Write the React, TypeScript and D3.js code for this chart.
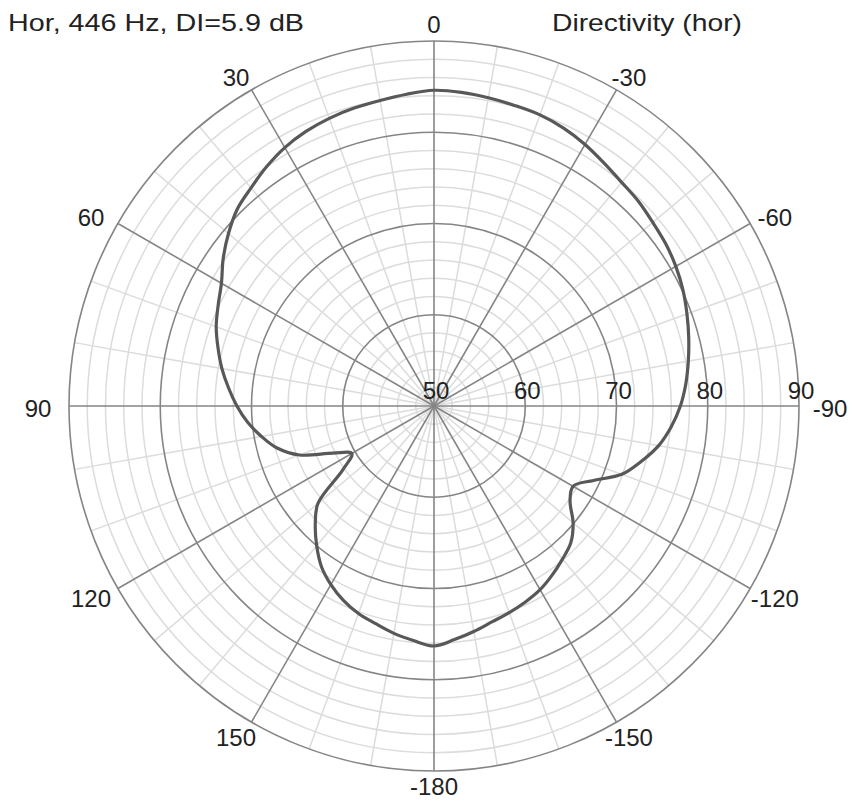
import React from 'react';
import * as d3 from 'd3';

// angle in degrees, 0 = front (top), positive to the left
const angles = [
  -180, -175, -170, -165, -160, -155, -150, -145, -140, -135, -130, -125,
  -120, -115, -110, -105, -100, -95, -90, -85, -80, -75, -70, -65,
  -60, -55, -50, -45, -40, -35, -30, -25, -20, -15, -10, -5,
  0, 5, 10, 15, 20, 25, 30, 35, 40, 45, 50, 55,
  60, 65, 70, 75, 80, 85, 90, 95, 100, 105, 110, 115,
  120, 125, 130, 135, 140, 145, 150, 155, 160, 165, 170, 175,
];
const levels = [
  76.3, 75.7, 75.1, 74.5, 74.1, 73.7, 73.25, 72.6, 71.9, 71.2, 69.9, 68.2,
  67.6, 69.3, 71.9, 73.5, 75.0, 76.1, 77.0, 77.7, 78.3, 78.9, 79.5, 80.1,
  80.6, 81.0, 81.3, 81.7, 82.0, 82.5, 83.1, 83.6, 83.95, 84.1, 84.3, 84.5,
  84.6, 84.3, 84.0, 83.8, 83.55, 83.2, 82.7, 82.0, 81.2, 80.5, 79.4, 78.2,
  76.9, 76.1, 75.4, 74.5, 73.6, 72.6, 71.6, 70.5, 69.2, 67.8, 65.7, 62.2,
  60.4, 62.2, 66.6, 68.4, 70.0, 71.5, 72.6, 73.5, 74.2, 74.7, 75.3, 75.8,
];

const ringTicks = [50, 60, 70, 80, 90];
const minorRings = [52, 54, 56, 58, 62, 64, 66, 68, 72, 74, 76, 78, 82, 84, 86, 88];
const angleTicks = [0, 30, 60, 90, 120, 150, 180, -150, -120, -90, -60, -30];
const angleLabels = ['0', '30', '60', '90', '120', '150', '-180', '-150', '-120', '-90', '-60', '-30'];
const minorAngles = d3.range(0, 360, 10).filter((a) => a % 30 !== 0);

const title = 'Hor, 446 Hz, DI=5.9 dB';
const subtitle = 'Directivity (hor)';

const cx = 434;
const cy = 406;
const r = d3.scaleLinear().domain([50, 90]).range([0, 365]);
const font = 'Liberation Sans, Arial, sans-serif';

export default function App() {
  const pts = angles.map((a, i) => ({ a, v: levels[i] }));
  const line = d3
    .lineRadial<{ a: number; v: number }>()
    .angle((d) => (-d.a * Math.PI) / 180)
    .radius((d) => r(d.v))
    .curve(d3.curveCatmullRomClosed.alpha(0.5));

  const R = r(90);
  const spoke = (deg: number) => {
    const t = (deg * Math.PI) / 180;
    return { x: cx - R * Math.sin(t), y: cy - R * Math.cos(t) };
  };

  return (
    <svg width={852} height={804} style={{ position: 'absolute', left: 0, top: 0, background: '#fff' }}>
      <g fill="none">
        {minorRings.map((d) => (
          <circle key={d} cx={cx} cy={cy} r={r(d)} stroke="#dcdcdc" strokeWidth={1.5} />
        ))}
        {minorAngles.map((d) => {
          const p = spoke(d);
          return <line key={d} x1={cx} y1={cy} x2={p.x} y2={p.y} stroke="#dcdcdc" strokeWidth={1.5} />;
        })}
        {ringTicks.slice(1).map((d) => (
          <circle key={d} cx={cx} cy={cy} r={r(d)} stroke="#858585" strokeWidth={1.6} />
        ))}
        {angleTicks.map((d) => {
          const p = spoke(d);
          return <line key={d} x1={cx} y1={cy} x2={p.x} y2={p.y} stroke="#858585" strokeWidth={1.6} />;
        })}
      </g>
      <path d={line(pts) ?? ''} transform={`translate(${cx},${cy})`} fill="none" stroke="#585858" strokeWidth={3.2} />
      <g fontFamily={font} fontSize={24} fill="#222" textAnchor="middle">
        {ringTicks.map((d) => (
          <text key={d} x={cx + r(d) + 2} y={399}>
            {d}
          </text>
        ))}
        {angleTicks.map((d, i) => {
          const t = (d * Math.PI) / 180;
          const s = Math.sin(t);
          const p = spoke(d);
          const ox = s > 0 ? -31 * s : 24 * -s + 7 * s ** 4;
          const oy = -16 * Math.cos(t) + 3 * Math.abs(s);
          return (
            <text key={d} x={p.x + ox} y={p.y + oy} dy="0.35em">
              {angleLabels[i]}
            </text>
          );
        })}
      </g>
      <text x={8} y={31} fontFamily={font} fontSize={24} fill="#222" textLength={296} lengthAdjust="spacingAndGlyphs">
        {title}
      </text>
      <text x={552} y={31} fontFamily={font} fontSize={24} fill="#222" textLength={190} lengthAdjust="spacingAndGlyphs">
        {subtitle}
      </text>
    </svg>
  );
}
